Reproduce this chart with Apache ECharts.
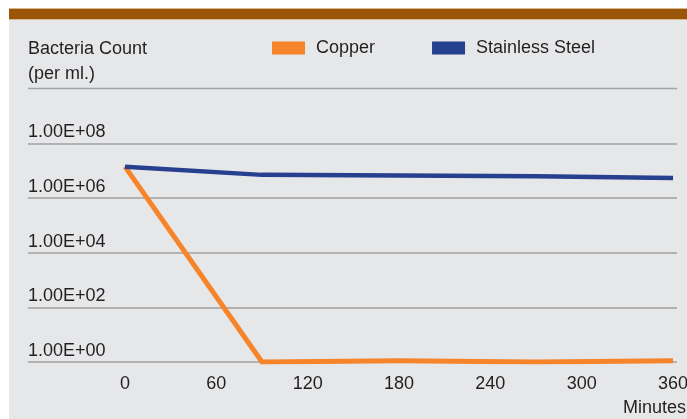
<!DOCTYPE html>
<html>
<head>
<meta charset="utf-8">
<script src="https://cdn.jsdelivr.net/npm/echarts@6/dist/echarts.min.js"></script>
<style>
html,body{margin:0;padding:0;background:#ffffff;}
#c{width:687px;height:419px;}
</style>
</head>
<body>
<div id="c"></div>
<script>
// ---- data ----
var times = [0, 90, 180, 270, 360];
var copper = [1.4e7, 1, 1.1, 1.0, 1.1];
var steel = [1.4e7, 7.0e6, 6.6e6, 6.2e6, 5.4e6];
var xTicks = [0, 60, 120, 180, 240, 300, 360];
var yTickLabels = ['1.00E+00', '1.00E+02', '1.00E+04', '1.00E+06', '1.00E+08'];
var seriesNames = ['Copper', 'Stainless Steel'];

var FONT = "'Liberation Sans', Arial, Helvetica, sans-serif";
var TXT = '#231f20';

function pairs(xs, ys) { return xs.map(function (x, i) { return [x, ys[i]]; }); }

var chart = echarts.init(document.getElementById('c'), null, { renderer: 'canvas' });
chart.setOption({
  backgroundColor: 'transparent',
  animation: false,
  textStyle: { fontFamily: FONT },
  graphic: [
    { type: 'rect', z: -10, shape: { x: 9, y: 8, width: 678, height: 411 }, style: { fill: '#e6e7e9' } },
    { type: 'rect', z: -9, shape: { x: 9, y: 8, width: 678, height: 12 }, style: { fill: '#d8b68e' } },
    { type: 'rect', z: -8, shape: { x: 9, y: 9, width: 678, height: 10 }, style: { fill: '#9a5508' } },
    { type: 'line', z: -7, shape: { x1: 28, y1: 88.5, x2: 677, y2: 88.5 }, style: { stroke: '#a3a3a3', lineWidth: 1.5 } }
  ],
  title: {
    text: 'Bacteria Count\n(per ml.)',
    left: 28, top: 37, padding: 0,
    textStyle: { fontFamily: FONT, fontSize: 18, fontWeight: 'normal', color: TXT, lineHeight: 25 }
  },
  legend: {
    data: seriesNames.map(function (n) { return { name: n, icon: 'rect' }; }),
    left: 272, top: 39, padding: 0,
    itemWidth: 33, itemHeight: 13, itemGap: 57,
    textStyle: { fontFamily: FONT, fontSize: 18, color: TXT, padding: [0, 0, 0, 6] }
  },
  grid: { left: 28, right: 10, top: 143.3, bottom: 57, containLabel: false, outerBoundsMode: 'none' },
  xAxis: {
    type: 'value', min: -63.7, max: 362.6,
    axisLine: { show: false }, axisTick: { show: false }, splitLine: { show: false },
    axisLabel: {
      customValues: xTicks, margin: 13, hideOverlap: false,
      fontFamily: FONT, fontSize: 18, color: TXT,
      formatter: function (v) { return String(v); }
    },
    name: 'Minutes', nameLocation: 'end', nameGap: -54,
    nameTextStyle: { fontFamily: FONT, fontSize: 18, color: TXT, align: 'left', verticalAlign: 'top', padding: [37, 0, 0, 0] }
  },
  yAxis: {
    type: 'log', logBase: 100, min: 1, max: 1e8,
    axisLine: { show: false }, axisTick: { show: false },
    splitLine: { show: true, lineStyle: { color: '#a0a0a0', width: 1.5 } },
    axisLabel: {
      inside: true, margin: 0, align: 'left', verticalAlign: 'bottom', padding: [0, 0, 2, 0],
      fontFamily: FONT, fontSize: 18, color: TXT, showMinLabel: true, showMaxLabel: true,
      formatter: function (v) { return yTickLabels[Math.round(Math.log10(v) / 2)]; }
    }
  },
  series: [
    {
      name: seriesNames[0], type: 'line', data: pairs(times, copper),
      showSymbol: false, symbol: 'none', color: '#f6842a',
      lineStyle: { width: 5, color: '#f6842a', cap: 'butt', join: 'miter' }, z: 3
    },
    {
      name: seriesNames[1], type: 'line', data: pairs(times, steel),
      showSymbol: false, symbol: 'none', color: '#263f8f',
      lineStyle: { width: 4.5, color: '#263f8f' }, z: 4
    }
  ]
});
</script>
</body>
</html>
